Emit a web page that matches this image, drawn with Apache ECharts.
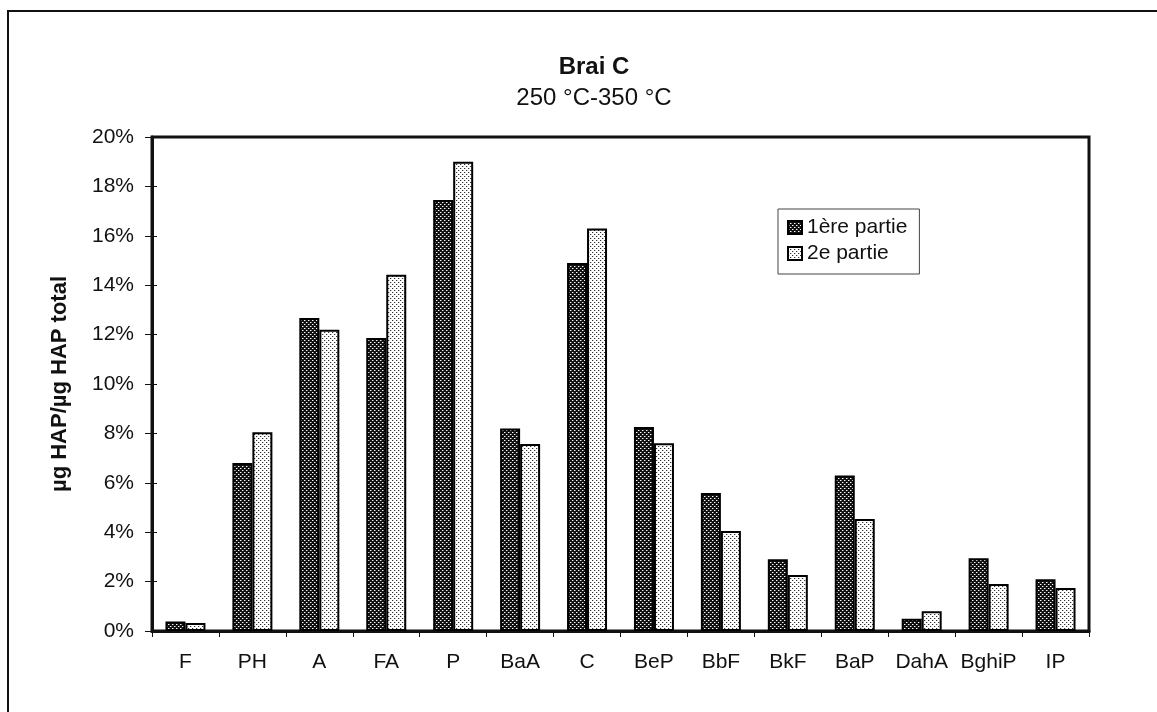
<!DOCTYPE html>
<html><head><meta charset="utf-8">
<script src="https://cdn.jsdelivr.net/npm/echarts@6/dist/echarts.min.js"></script>
<style>html,body{margin:0;padding:0;background:#fff}#c{width:1157px;height:712px}</style>
</head><body><div id="c"></div>
<script>
var categories = ['F','PH','A','FA','P','BaA','C','BeP','BbF','BkF','BaP','DahA','BghiP','IP'];
var part1 = [0.38, 6.8, 12.67, 11.86, 17.45, 8.2, 14.9, 8.26, 5.59, 2.9, 6.3, 0.5, 2.95, 2.1];
var part2 = [0.32, 8.05, 12.2, 14.42, 19.0, 7.57, 16.3, 7.6, 4.05, 2.27, 4.53, 0.8, 1.9, 1.74];
var seriesNames = ['1ère partie', '2e partie'];
var yTicks = {min: 0, max: 20, interval: 2};

function makePattern(bg, dots) {
  var cv = document.createElement('canvas');
  cv.width = 4; cv.height = 4;
  var ctx = cv.getContext('2d');
  ctx.fillStyle = bg; ctx.fillRect(0, 0, 4, 4);
  dots.forEach(function (d) { ctx.fillStyle = d[2]; ctx.fillRect(d[0], d[1], 1, 1); });
  return {image: cv, repeat: 'repeat'};
}
var darkPat = makePattern('#111', [[0,0,'#fff'],[2,2,'#fff'],[1,0,'#777'],[3,2,'#777']]);
var lightPat = makePattern('#fff', [[0,0,'#333'],[2,2,'#333'],[1,0,'#ccc'],[3,2,'#ccc']]);

var chart = echarts.init(document.getElementById('c'), null, {renderer: 'canvas'});
var font = 'Liberation Sans, Arial, sans-serif';
chart.setOption({
  animation: false,
  backgroundColor: '#fff',
  graphic: [{type: 'rect', shape: {x: 8, y: 11, width: 1162, height: 730}, style: {fill: 'none', stroke: '#111', lineWidth: 2}, silent: true}],
  title: [
    {text: 'Brai C', left: 589, top: 50, textAlign: 'center', textStyle: {fontFamily: font, fontSize: 24, fontWeight: 'bold', color: '#111'}},
    {text: '250 °C-350 °C', left: 589, top: 81, textAlign: 'center', textStyle: {fontFamily: font, fontSize: 24, fontWeight: 'normal', color: '#111'}}
  ],
  legend: {
    orient: 'vertical', left: 778, top: 209, padding: [7, 12, 9, 9], itemGap: 3,
    itemWidth: 14, itemHeight: 13, icon: 'rect',
    borderColor: '#444', borderWidth: 1,
    textStyle: {fontFamily: font, fontSize: 21, color: '#111', lineHeight: 23},
    data: seriesNames
  },
  grid: {left: 152, right: 68, top: 137, bottom: 81, show: true, borderColor: '#111', borderWidth: 3, containLabel: false},
  xAxis: {
    type: 'category', data: categories,
    axisLine: {lineStyle: {color: '#111', width: 3}},
    axisTick: {show: true, interval: 0, length: 6, lineStyle: {color: '#111', width: 1}},
    axisLabel: {interval: 0, hideOverlap: false, fontFamily: font, fontSize: 21, color: '#111', margin: 21}
  },
  yAxis: [{
    type: 'value', min: yTicks.min, max: yTicks.max, interval: yTicks.interval,
    name: 'µg HAP/µg HAP total', nameLocation: 'middle', nameGap: 81,
    nameTextStyle: {fontFamily: font, fontSize: 22, fontWeight: 'bold', color: '#111'},
    axisLine: {show: true, lineStyle: {color: '#111', width: 3}},
    axisTick: {show: true, length: 7, lineStyle: {color: '#111', width: 1}},
    splitLine: {show: false},
    axisLabel: {fontFamily: font, fontSize: 21, color: '#111', margin: 18, formatter: '{value}%'}
  }, {
    type: 'value', min: yTicks.min, max: yTicks.max, interval: yTicks.interval, position: 'left',
    axisLine: {show: false}, axisLabel: {show: false}, splitLine: {show: false},
    axisTick: {show: true, inside: true, length: 5, lineStyle: {color: '#111', width: 1}}
  }],
  series: [
    {name: seriesNames[0], type: 'bar', data: part1, barWidth: 20, barGap: '0%',
     itemStyle: {color: darkPat, borderColor: '#000', borderWidth: 2}},
    {name: seriesNames[1], type: 'bar', data: part2, barWidth: 20, barGap: '0%',
     itemStyle: {color: lightPat, borderColor: '#000', borderWidth: 2}}
  ]
});
</script></body></html>
